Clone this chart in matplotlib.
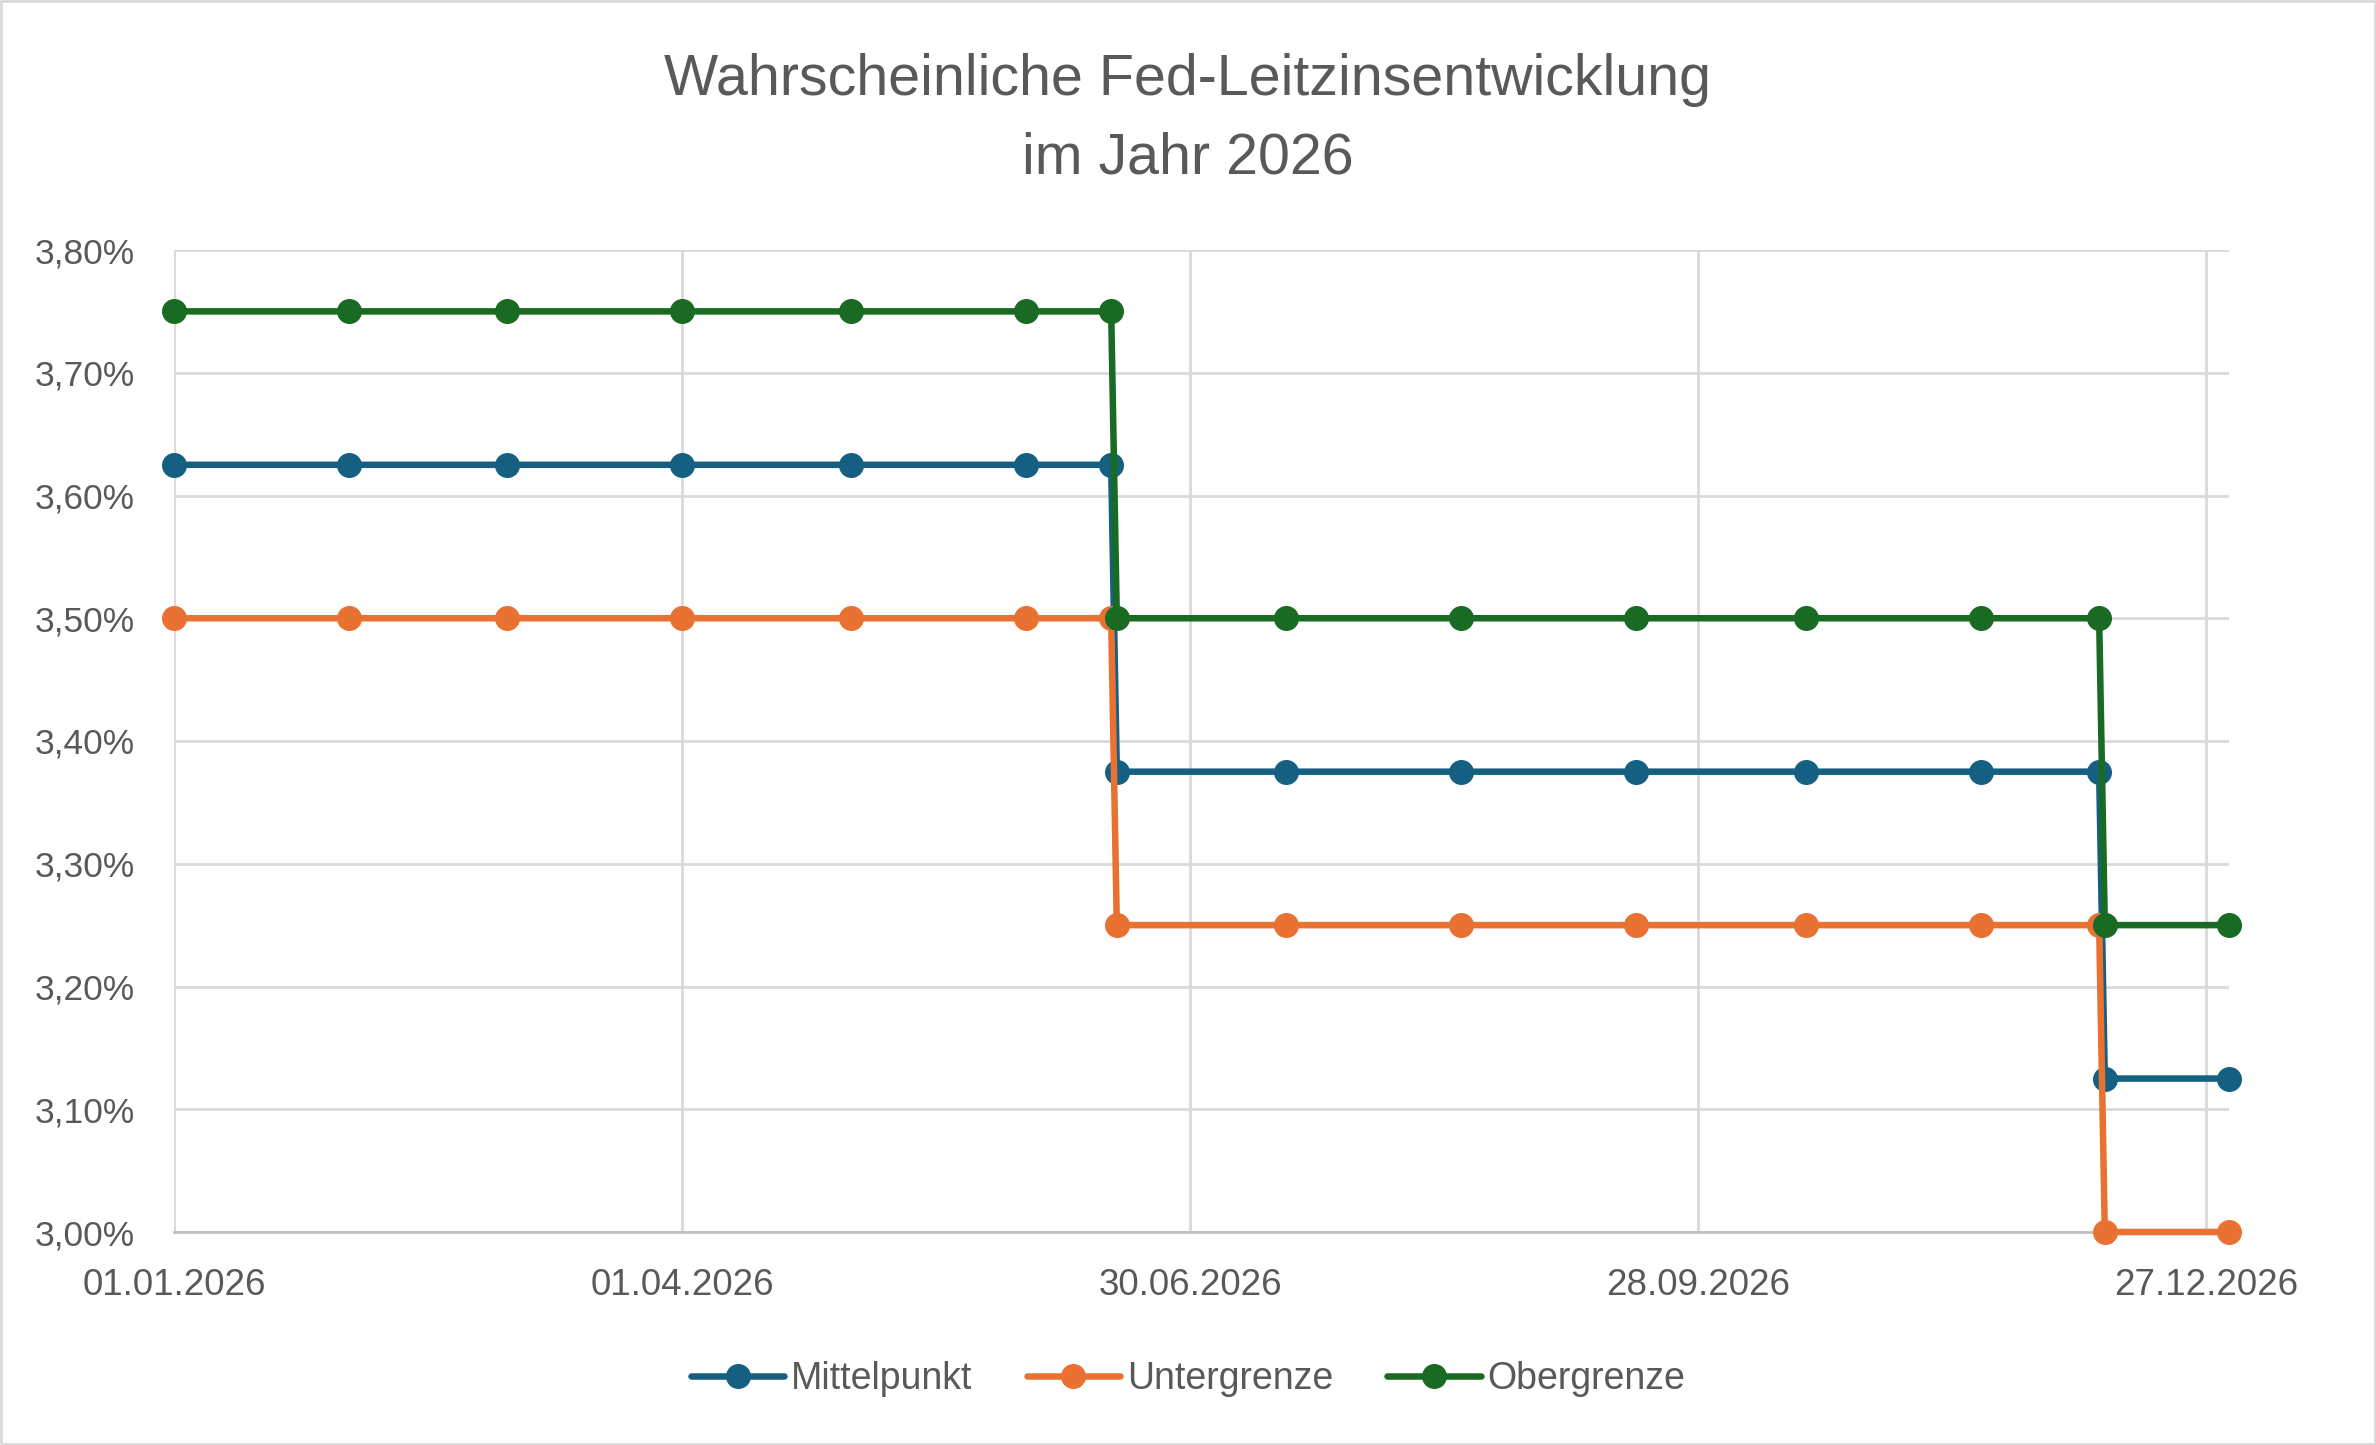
import matplotlib
matplotlib.use("Agg")
import matplotlib.pyplot as plt
import matplotlib.dates as mdates
from matplotlib.ticker import FixedLocator, FuncFormatter
from matplotlib.patches import Rectangle
import datetime as dt

plt.rcParams['font.family'] = ['Liberation Sans', 'DejaVu Sans']

# ---- data ----
dates = ["2026-01-01", "2026-02-01", "2026-03-01", "2026-04-01", "2026-05-01",
         "2026-06-01", "2026-06-16", "2026-06-17", "2026-07-17", "2026-08-17",
         "2026-09-17", "2026-10-17", "2026-11-17", "2026-12-08", "2026-12-09",
         "2026-12-31"]
mittelpunkt = [3.625, 3.625, 3.625, 3.625, 3.625, 3.625, 3.625,
               3.375, 3.375, 3.375, 3.375, 3.375, 3.375, 3.375,
               3.125, 3.125]
untergrenze = [3.50, 3.50, 3.50, 3.50, 3.50, 3.50, 3.50,
               3.25, 3.25, 3.25, 3.25, 3.25, 3.25, 3.25,
               3.00, 3.00]
obergrenze = [3.75, 3.75, 3.75, 3.75, 3.75, 3.75, 3.75,
              3.50, 3.50, 3.50, 3.50, 3.50, 3.50, 3.50,
              3.25, 3.25]
series_names = ["Mittelpunkt", "Untergrenze", "Obergrenze"]
x_tick_dates = ["2026-01-01", "2026-04-01", "2026-06-30", "2026-09-28", "2026-12-27"]
y_ticks = [3.00, 3.10, 3.20, 3.30, 3.40, 3.50, 3.60, 3.70, 3.80]
title_lines = ["Wahrscheinliche Fed-Leitzinsentwicklung", "im Jahr 2026"]

colors = ["#156082", "#E97132", "#196B24"]
text_color = "#595959"
grid_color = "#D9D9D9"

x = [dt.datetime.strptime(d, "%Y-%m-%d") for d in dates]
xt = [dt.datetime.strptime(d, "%Y-%m-%d") for d in x_tick_dates]

fig = plt.figure(figsize=(23.76, 14.45), dpi=100)
ax = fig.add_axes([174/2376, 1 - 1232/1445, (2229-174)/2376, (1232-250)/1445])

for vals, name, c in zip([mittelpunkt, untergrenze, obergrenze], series_names, colors):
    ax.plot(x, vals, color=c, lw=4.7, marker='o', markersize=17,
            label=name, zorder=3, clip_on=False,
            solid_joinstyle='round', solid_capstyle='round')

ax.set_xlim(dt.datetime(2026, 1, 1), dt.datetime(2026, 12, 31))
ax.set_ylim(3.0, 3.8)
ax.xaxis.set_major_locator(FixedLocator(mdates.date2num(xt)))
ax.xaxis.set_major_formatter(mdates.DateFormatter("%d.%m.%Y"))
ax.yaxis.set_major_locator(FixedLocator(y_ticks))
ax.yaxis.set_major_formatter(FuncFormatter(lambda v, p: f"{v:.2f}%".replace(".", ",")))

ax.grid(True, color=grid_color, lw=2, zorder=0)
for s in ["top", "right", "left"]:
    ax.spines[s].set_visible(False)
ax.spines["bottom"].set_color("#BFBFBF")
ax.spines["bottom"].set_linewidth(2)
ax.tick_params(axis='both', length=0, labelsize=25.5, colors=text_color)
ax.tick_params(axis='x', labelsize=26.5, pad=26)
ax.tick_params(axis='y', pad=28)
ax.set_axisbelow(True)

fig.text(0.5, 1 - 80/1445, title_lines[0], ha='center', va='center',
         fontsize=41.3, color=text_color)
fig.text(0.5, 1 - 159/1445, title_lines[1], ha='center', va='center',
         fontsize=41.3, color=text_color)

leg = fig.legend(loc='center', bbox_to_anchor=(0.5, 1 - 1379/1445), ncol=3, frameon=False,
                 fontsize=27, handlelength=2.5, handletextpad=0.17, columnspacing=1.45,
                 labelcolor=text_color)

fig.patches.append(Rectangle((0.0005, 0.0005), 0.999, 0.999, transform=fig.transFigure,
                             fill=False, edgecolor="#D9D9D9", lw=2))

fig.savefig("out.png", dpi=100, facecolor="white")
